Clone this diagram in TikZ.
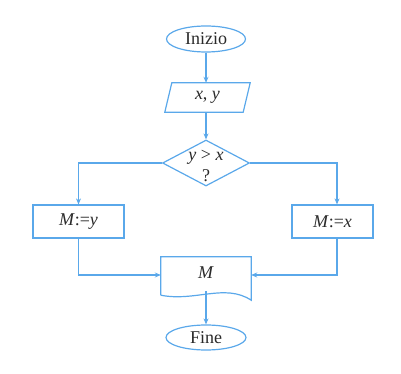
\documentclass[tikz,border=0pt]{standalone}
\usepackage{fontspec}
\setmainfont{Liberation Serif}
\usetikzlibrary{shapes.geometric,arrows.meta,calc}
\definecolor{fc}{HTML}{5AA8EA}
\definecolor{tc}{HTML}{2A2A2A}
\begin{document}
\begin{tikzpicture}[x=1pt,y=-1pt,
  every node/.style={text=tc,font=\fontsize{18}{21}\selectfont},
  ln/.style={draw=fc,line width=1.2pt},
  ar/.style={ln,-{Stealth[length=6pt,width=5pt]}},
  term/.style={ellipse,ln,minimum width=79pt,minimum height=26pt,inner sep=0pt},
  box/.style={rectangle,ln,minimum height=33pt,inner sep=0pt},
  ghost/.style={rectangle,inner sep=0pt},
  dia/.style={diamond,ln,minimum width=87pt,minimum height=46pt,inner sep=0pt}]
\useasboundingbox (0,0) rectangle (401,374);
\node[term] (start) at (206,39) {Inizio};
\node[ghost,minimum width=78pt,minimum height=29pt] (io) at (207.5,97.5) {\textit{x}, \textit{y}};
\draw[ln] ([xshift=3.5pt]io.north west) -- ([xshift=3.5pt]io.north east) -- ([xshift=-3.5pt]io.south east) -- ([xshift=-3.5pt]io.south west) -- cycle;
\node[dia] (d) at (206,163) {};
\node (dt) at (206,157) {\textit{y} > \textit{x}};
\node (dq) at (206,176) {?};
\node[box,minimum width=91pt] (l) at (78.5,221.5) {\textit{M}:=\textit{y}};
\node[box,minimum width=81pt] (r) at (332.5,221.5) {\textit{M}:=\textit{x}};
\node[ghost,minimum width=90pt,minimum height=38pt] (m) at (206,276) {};
\node at (206,273) {\textit{M}};
\draw[ln] (m.south west) -- (m.north west) -- (m.north east) -- ([yshift=-5pt]m.south east)
  .. controls (225,283) and (195,302) .. (m.south west);
\coordinate (mb) at (206,291);
\node[term,minimum width=80pt,minimum height=25pt] (end) at (206,337.5) {Fine};
\draw[ar] (start) -- (start |- io.north);
\draw[ar] (d.north |- io.south) -- (d.north);
\draw[ar] (d.west) -| (l.north);
\draw[ar] (d.east) -| ([xshift=4.5pt]r.north);
\draw[ar] (l.south) |- ([yshift=1pt]m.west);
\draw[ar] ([xshift=4.5pt]r.south) |- ([yshift=1pt]m.east);
\draw[ar] (mb) -- (end);
\end{tikzpicture}
\end{document}
